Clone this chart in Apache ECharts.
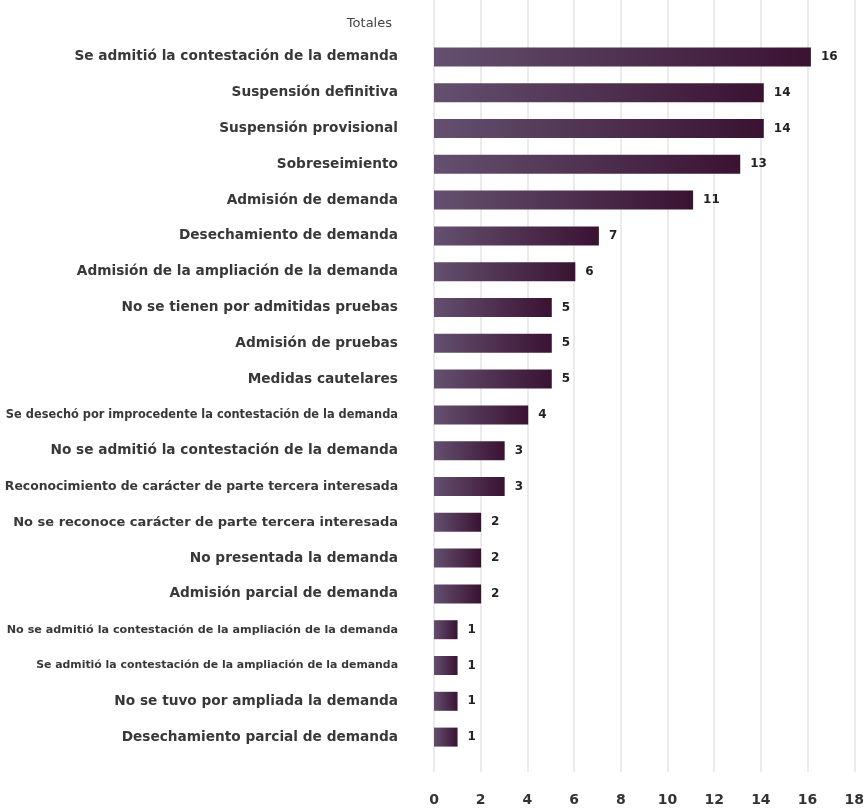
<!DOCTYPE html>
<html>
<head>
<meta charset="utf-8">
<script src="https://cdn.jsdelivr.net/npm/echarts@6/dist/echarts.min.js"></script>
<style>
html,body{margin:0;padding:0;background:#fff;}
#chart{width:867px;height:810px;}
</style>
</head>
<body>
<div id="chart"></div>
<script>
const headerLabel = 'Totales';
const categories = [
  'Se admitió la contestación de la demanda',
  'Suspensión definitiva',
  'Suspensión provisional',
  'Sobreseimiento',
  'Admisión de demanda',
  'Desechamiento de demanda',
  'Admisión de la ampliación de la demanda',
  'No se tienen por admitidas pruebas',
  'Admisión de pruebas',
  'Medidas cautelares',
  'Se desechó por improcedente la contestación de la demanda',
  'No se admitió la contestación de la demanda',
  'Reconocimiento de carácter de parte tercera interesada',
  'No se reconoce carácter de parte tercera interesada',
  'No presentada la demanda',
  'Admisión parcial de demanda',
  'No se admitió la contestación de la ampliación de la demanda',
  'Se admitió la contestación de la ampliación de la demanda',
  'No se tuvo por ampliada la demanda',
  'Desechamiento parcial de demanda'
];
const values = [16, 14, 14, 13, 11, 7, 6, 5, 5, 5, 4, 3, 3, 2, 2, 2, 1, 1, 1, 1];
const xTicks = [0, 2, 4, 6, 8, 10, 12, 14, 16, 18];

const FONT = '"DejaVu Sans", "Noto Sans", sans-serif';
// the original condenses the longest labels to fit the label column
function labelStyleKey(name) {
  const n = name.length;
  if (n >= 60) return 'a';
  if (n >= 57) return name.indexOf('ampliación') >= 0 ? 'b' : 'c';
  if (n >= 54) return 'd';
  if (n >= 51) return 'e';
  return 'n';
}

const chart = echarts.init(document.getElementById('chart'));
const base = { fontFamily: FONT, color: '#383838', fontWeight: 'bold' };
const option = {
  backgroundColor: '#ffffff',
  animation: false,
  title: {
    text: headerLabel,
    right: 470,
    top: 12,
    textStyle: { fontFamily: FONT, fontSize: 13, fontWeight: 'normal', color: '#444' }
  },
  grid: [
    { left: 434, width: 424, top: 0, height: 772 },
    { left: 434, width: 424, top: 39, height: 716 }
  ],
  xAxis: [
    {
      gridIndex: 0, type: 'value', min: 0, max: 18, interval: 2,
      axisLine: { show: false }, axisTick: { show: false },
      splitLine: { show: true, lineStyle: { color: '#e4e4e8', width: 1.5 } },
      axisLabel: {
        margin: 21, fontFamily: FONT, fontSize: 14, fontWeight: 'bold', color: '#333',
        formatter: function (v) { return xTicks.indexOf(v) >= 0 ? String(v) : ''; }
      }
    },
    {
      gridIndex: 1, type: 'value', min: 0, max: 18, interval: 2, show: false,
      splitLine: { show: false }
    }
  ],
  yAxis: [
    { gridIndex: 0, type: 'category', data: [''], show: false },
    {
      gridIndex: 1, type: 'category', data: categories, inverse: true,
      axisLine: { show: false }, axisTick: { show: false },
      axisLabel: {
        margin: 36, color: '#383838', fontFamily: FONT,
        formatter: function (v) { return '{' + labelStyleKey(v) + '|' + v + '}'; },
        rich: {
          n: Object.assign({ fontSize: 13.7 }, base),
          e: Object.assign({ fontSize: 13.0 }, base),
          d: Object.assign({ fontSize: 12.4 }, base),
          c: Object.assign({ fontSize: 11.4 }, base),
          b: Object.assign({ fontSize: 10.9 }, base),
          a: Object.assign({ fontSize: 11.2 }, base)
        }
      }
    }
  ],
  series: [
    {
      type: 'bar',
      xAxisIndex: 1, yAxisIndex: 1,
      data: values,
      barWidth: 19,
      itemStyle: {
        color: new echarts.graphic.LinearGradient(0, 0, 1, 0, [
          { offset: 0, color: '#64506f' },
          { offset: 1, color: '#3a1232' }
        ])
      },
      label: {
        show: true, position: 'right', distance: 10,
        fontFamily: FONT, fontSize: 12, fontWeight: 'bold', color: '#222'
      }
    }
  ]
};
chart.setOption(option);
</script>
</body>
</html>
